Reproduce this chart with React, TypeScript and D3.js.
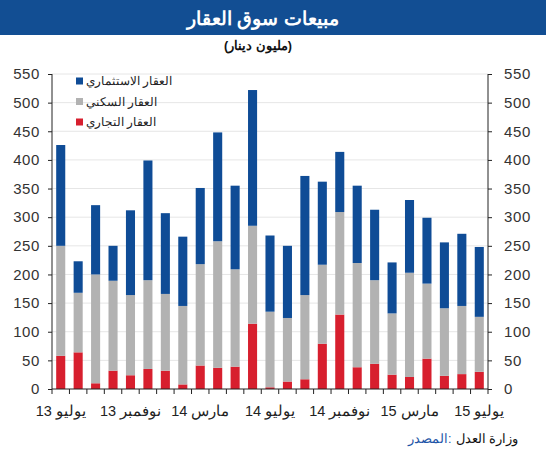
import { useEffect, useRef } from 'react';
import * as d3 from 'd3';

// months Jul 2013 .. Jul 2015
const months = [
  '2013-07', '2013-08', '2013-09', '2013-10', '2013-11', '2013-12',
  '2014-01', '2014-02', '2014-03', '2014-04', '2014-05', '2014-06',
  '2014-07', '2014-08', '2014-09', '2014-10', '2014-11', '2014-12',
  '2015-01', '2015-02', '2015-03', '2015-04', '2015-05', '2015-06', '2015-07',
];

// العقار التجاري
const commercial = [58, 64, 10, 32, 24, 35, 32, 8, 41, 37, 39, 114, 3, 13, 17, 79, 130, 38, 44, 25, 21, 53, 23, 26, 30];
// العقار السكني
const residential = [192, 104, 190, 157, 140, 155, 134, 137, 177, 221, 170, 171, 132, 111, 147, 138, 179, 182, 146, 107, 182, 131, 118, 119, 96];
// العقار الاستثماري
const investment = [176, 55, 121, 61, 148, 209, 141, 121, 133, 190, 146, 237, 133, 126, 208, 145, 105, 135, 123, 89, 127, 115, 115, 126, 122];

const seriesKeys = ['commercial', 'residential', 'investment'] as const;
const seriesNames = ['العقار التجاري', 'العقار السكني', 'العقار الاستثماري'];
const seriesColors = ['#d71f2e', '#b2b2b2', '#0f4c96'];

const yTicks = [0, 50, 100, 150, 200, 250, 300, 350, 400, 450, 500, 550];
const xLabelIdx = [0, 4, 8, 12, 16, 20, 24];
const xLabels = ['يوليو 13', 'نوفمبر 13', 'مارس 14', 'يوليو 14', 'نوفمبر 14', 'مارس 15', 'يوليو 15'];

const W = 546;
const H = 450;

export default function App() {
  const svgRef = useRef<SVGSVGElement>(null);

  useEffect(() => {
    if (!svgRef.current) return;
    const svg = d3.select(svgRef.current);
    svg.selectAll('*').remove();

    const left = 52;
    const right = 488;
    const top = 74;
    const bottom = 389;

    const rows = months.map((m, i) => ({
      month: m,
      commercial: commercial[i],
      residential: residential[i],
      investment: investment[i],
    }));

    const x = d3.scaleBand<string>()
      .domain(months)
      .range([left, right])
      .paddingInner(0.48)
      .paddingOuter(0.24);
    const y = d3.scaleLinear().domain([0, 550]).range([bottom, top]);

    // ── 제목 ──
    svg.append('rect')
      .attr('x', 0).attr('y', 0).attr('width', W).attr('height', 35)
      .attr('fill', '#124e93');
    svg.append('text')
      .attr('x', 263).attr('y', 25)
      .attr('text-anchor', 'middle')
      .attr('fill', '#fff')
      .attr('font-size', '19px')
      .attr('font-weight', 'bold')
      .text('مبيعات سوق العقار');
    svg.append('text')
      .attr('x', 258).attr('y', 50)
      .attr('text-anchor', 'middle')
      .attr('fill', '#111')
      .attr('font-size', '12.5px')
      .attr('font-weight', 'bold')
      .text('(مليون دينار)');

    // ── 격자 ──
    svg.append('g')
      .selectAll('line')
      .data(yTicks.filter((t) => t > 0))
      .enter()
      .append('line')
      .attr('x1', left).attr('x2', right)
      .attr('y1', (d) => y(d)).attr('y2', (d) => y(d))
      .attr('stroke', '#e6e6e6')
      .attr('stroke-width', 1);

    // ── 막대 ──
    const stacked = d3.stack<any>().keys(seriesKeys as any)(rows);
    svg.append('g')
      .selectAll('g')
      .data(stacked)
      .enter()
      .append('g')
      .attr('fill', (_, i) => seriesColors[i])
      .selectAll('rect')
      .data((d) => d)
      .enter()
      .append('rect')
      .attr('x', (d) => x(d.data.month)!)
      .attr('width', x.bandwidth())
      .attr('y', (d) => y(d[1]))
      .attr('height', (d) => y(d[0]) - y(d[1]));

    // ── 축 ──
    const axisColor = '#222';
    const gl = svg.append('g').attr('transform', `translate(${left},0)`)
      .call(d3.axisLeft(y).tickValues(yTicks).tickSize(4).tickPadding(8));
    const gr = svg.append('g').attr('transform', `translate(${right},0)`)
      .call(d3.axisRight(y).tickValues(yTicks).tickSize(4).tickPadding(12));
    [gl, gr].forEach((g) => {
      g.select('.domain').remove();
      g.selectAll('.tick line').attr('stroke', axisColor);
      g.selectAll('.tick text')
        .attr('fill', '#333')
        .attr('font-size', '15px')
        .attr('font-family', 'Liberation Sans, Arial, sans-serif')
        .attr('letter-spacing', '0.6px');
    });
    svg.append('line')
      .attr('x1', left).attr('x2', left).attr('y1', y(550)).attr('y2', bottom)
      .attr('stroke', axisColor);
    svg.append('line')
      .attr('x1', right).attr('x2', right).attr('y1', y(550)).attr('y2', bottom)
      .attr('stroke', axisColor);

    // x축
    svg.append('line')
      .attr('x1', left).attr('x2', right).attr('y1', bottom).attr('y2', bottom)
      .attr('stroke', axisColor);
    const bounds = d3.range(months.length + 1).map((i) => x.range()[0] + i * x.step());
    svg.append('g')
      .selectAll('line')
      .data(bounds)
      .enter()
      .append('line')
      .attr('x1', (d) => d).attr('x2', (d) => d)
      .attr('y1', bottom).attr('y2', bottom + 5)
      .attr('stroke', axisColor);
    svg.append('g')
      .selectAll('text')
      .data(xLabelIdx)
      .enter()
      .append('text')
      .attr('x', (d) => x(months[d])! + x.bandwidth() / 2)
      .attr('y', 416)
      .attr('text-anchor', 'middle')
      .attr('direction', 'rtl')
      .attr('fill', '#222')
      .attr('font-size', '14.5px')
      .attr('font-family', 'Liberation Sans, Arial, sans-serif')
      .attr('letter-spacing', '0.6px')
      .text((_, i) => xLabels[i]);

    // ── 범례 ──
    const legendOrder = [2, 1, 0];
    const lg = svg.append('g');
    legendOrder.forEach((si, k) => {
      const cy = 81 + k * 20.5;
      lg.append('rect')
        .attr('x', 76).attr('y', cy - 3.5).attr('width', 7).attr('height', 7)
        .attr('fill', seriesColors[si]);
      lg.append('text')
        .attr('x', 86).attr('y', cy + 4)
        .attr('fill', '#222')
        .attr('font-size', '11.5px')
        .text(seriesNames[si]);
    });

    // ── 출처 (오른쪽 끝 518 기준으로 폭을 재서 배치) ──
    const src = svg.append('text')
      .attr('y', 443)
      .attr('fill', '#111')
      .attr('font-size', '12.5px')
      .text('وزارة العدل');
    const srcW = (src.node() as SVGTextElement).getComputedTextLength();
    src.attr('x', 518 - srcW);
    // 콜론은 따로 (bidi 때문에 왼쪽으로 붙는 것 방지)
    const colon = svg.append('text')
      .attr('y', 443)
      .attr('fill', '#1f56a8')
      .attr('font-size', '12.5px')
      .text(':');
    const colonW = (colon.node() as SVGTextElement).getComputedTextLength();
    colon.attr('x', 518 - srcW - 4 - colonW);
    const lbl = svg.append('text')
      .attr('y', 443)
      .attr('fill', '#1f56a8')
      .attr('font-size', '12.5px')
      .text('المصدر');
    const lblW = (lbl.node() as SVGTextElement).getComputedTextLength();
    lbl.attr('x', 518 - srcW - 4 - colonW - lblW);
  }, []);

  return (
    <svg
      ref={svgRef}
      width={W}
      height={H}
      style={{ position: 'absolute', left: 0, top: 0, background: '#fff', fontFamily: 'Liberation Sans, Arial, sans-serif' }}
    />
  );
}
